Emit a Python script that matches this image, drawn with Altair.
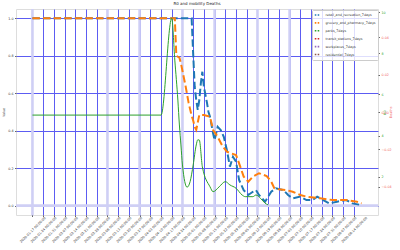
import altair as alt
import pandas as pd

# ---------------- data (x = days after 2020-01-17) ----------------
series_names = ["retail_and_recreation_7days", "grocery_and_pharmacy_7days", "parks_7days",
                "transit_stations_7days", "workplaces_7days", "residential_7days"]
series_colors = ["#1f77b4", "#ff7f0e", "#2ca02c", "#d62728", "#9467bd", "#8c564b"]

tick_days = [7 * i for i in range(31)]
tick_labels = [d.strftime("%Y-%m-%d %H:%M:%S") for d in pd.date_range("2020-01-17", periods=31, freq="7D")]

retail_day = [0, 104, 105, 106, 107, 108, 109, 110, 111, 112, 114, 115, 116, 118, 119, 121, 123, 125, 127,
              128, 129, 131, 133, 135, 138, 141, 144, 146, 148, 152, 156, 159, 164, 167, 170, 175, 179,
              183, 186, 190, 194, 199, 205, 209, 215]
retail_val = [1.0, 1.0, 0.81, 0.635, 0.564, 0.511, 0.564, 0.653, 0.715, 0.635, 0.55, 0.5, 0.475, 0.386,
              0.35, 0.421, 0.404, 0.368, 0.297, 0.253, 0.208, 0.261, 0.235, 0.137, 0.083, 0.057, 0.074,
              0.083, 0.057, 0.021, 0.074, 0.093, 0.083, 0.057, 0.039, 0.048, 0.03, 0.03, 0.048, 0.03,
              0.012, 0.021, 0.03, 0.012, 0.003]

grocery_day = [0, 93, 94, 96, 97, 100, 102, 104, 105, 106, 107, 109, 112, 116, 118, 121, 124, 127, 130,
               133, 135, 138, 141, 144, 148, 153, 156, 158, 161, 166, 170, 175, 179, 188, 196, 205, 212, 215]
grocery_val = [1.0, 1.0, 0.80, 0.79, 0.76, 0.64, 0.55, 0.48, 0.455, 0.42, 0.405, 0.484, 0.484, 0.475,
               0.404, 0.368, 0.32, 0.288, 0.279, 0.27, 0.226, 0.155, 0.128, 0.155, 0.173, 0.158, 0.128,
               0.093, 0.087, 0.083, 0.074, 0.057, 0.048, 0.039, 0.03, 0.03, 0.021, 0.012]

r0_day = [0, 84, 91, 93, 95, 96, 97, 98, 101, 103, 105, 107, 108, 109, 111, 116, 118, 122, 126, 129,
          133, 137, 139, 144, 146, 149, 152, 154]
r0_val = [5.0, 5.0, 9.7, 7.67, 5.73, 4.52, 3.55, 2.58, 1.5, 1.77, 2.58, 3.55, 3.8, 3.79, 2.49, 1.52,
          1.28, 1.52, 1.77, 1.61, 1.45, 1.12, 1.04, 1.04, 1.12, 0.96, 0.72, 0.64]

marker_days = [0, 49, 70, 98, 119, 147, 168]
value_ticks = [0.0, 0.2, 0.4, 0.6, 0.8, 1.0]
r0_ticks = [2, 4, 6, 8, 10]
deaths_ticks = [-0.04, -0.02, 0.0, 0.02, 0.04]

mob = pd.concat([
    pd.DataFrame({"day": retail_day, "value": retail_val, "series": series_names[0]}),
    pd.DataFrame({"day": grocery_day, "value": grocery_val, "series": series_names[1]}),
])
r0 = pd.DataFrame({"day": r0_day, "r0": r0_val})
markers = pd.DataFrame({"day": marker_days})
zero = pd.DataFrame({"value": [0.0]})
deaths = pd.DataFrame({"v": deaths_ticks})

FONT = "DejaVu Sans"
GRID = "#5c5cf2"
FS = 3.3

x_scale = alt.Scale(domain=[-10.75, 225.75], nice=False, zero=False)
label_js = "[" + ",".join("'%s'" % s for s in tick_labels) + "]"
x_axis = alt.Axis(values=tick_days, labelExpr=label_js + "[round(datum.value/7)]",
                  labelAngle=315, labelAlign="center", labelBaseline="middle", labelFontSize=FS,
                  labelPadding=13, tickSize=1.5, labelOverlap=False, labelFlush=False,
                  grid=True, gridColor=GRID, gridWidth=1, domain=False, title=None,
                  labelColor="#333", tickColor="#666", labelFont=FONT)

y_axis = alt.Axis(values=value_ticks, format=".1f", grid=True, gridColor=GRID, gridWidth=1,
                  domain=False, tickSize=1.5, labelPadding=1.5, labelFontSize=FS, labelFont=FONT,
                  labelColor="#333", tickColor="#666", title="Value", titleFontSize=FS,
                  titleFont=FONT, titleFontWeight="normal", titlePadding=2, titleColor="#333")

y_scale = alt.Scale(domain=[-0.05, 1.05], nice=False, zero=False)

vlines = alt.Chart(markers).mark_rule(color="#cfcff5", strokeWidth=2.6).encode(
    x=alt.X("day:Q", scale=x_scale, axis=x_axis))
hline = alt.Chart(zero).mark_rule(color="#cfcff5", strokeWidth=2.6).encode(
    y=alt.Y("value:Q", scale=y_scale, axis=y_axis))
lines = alt.Chart(mob).mark_line(strokeWidth=2, strokeDash=[7.4, 3.2]).encode(
    x=alt.X("day:Q", scale=x_scale, axis=x_axis),
    y=alt.Y("value:Q", scale=y_scale, axis=y_axis),
    color=alt.Color("series:N", scale=alt.Scale(domain=series_names, range=series_colors),
                    legend=alt.Legend(orient="none", legendX=296, legendY=1, title=None,
                                      labelFontSize=FS, labelFont=FONT, labelColor="#333",
                                      symbolType="M-1,0H-0.3M0.3,0H1", symbolSize=20,
                                      symbolStrokeWidth=1.6, labelOffset=5, rowPadding=0.9,
                                      padding=1.5, fillColor="rgba(255,255,255,0.8)",
                                      strokeColor="#cccccc", cornerRadius=1, labelLimit=200)),
    order="day:Q",
)
layer_a = alt.layer(vlines, hline, lines)

layer_b = alt.Chart(r0).mark_line(color="#2ca02c", strokeWidth=1, interpolate="monotone").encode(
    x=alt.X("day:Q", scale=x_scale, axis=x_axis),
    y=alt.Y("r0:Q", scale=alt.Scale(domain=[0.15, 10.15], nice=False, zero=False),
            axis=alt.Axis(orient="right", values=r0_ticks, grid=False, domain=False, tickSize=1.5,
                          labelPadding=1.5, labelFontSize=FS, labelFont=FONT, labelColor="#2ca02c",
                          tickColor="#666", title="R0", titleColor="#2ca02c", titleFontSize=FS,
                          titleFont=FONT, titleFontWeight="normal", titleAngle=270, titlePadding=1)),
)

layer_c = alt.Chart(deaths).mark_rule(opacity=0).encode(
    y=alt.Y("v:Q", scale=alt.Scale(domain=[-0.055, 0.055], nice=False, zero=False),
            axis=alt.Axis(orient="right", values=deaths_ticks, format=".2f", grid=False, domain=False,
                          tickSize=1.5, labelPadding=1.5, labelFontSize=FS, labelFont=FONT,
                          labelColor="#f06060", tickColor="#666", title="Deaths", titleColor="#f06060",
                          titleFontSize=FS, titleFont=FONT, titleFontWeight="normal", titleAngle=270,
                          titlePadding=1)),
)

chart = alt.layer(layer_a, layer_b, layer_c).resolve_scale(y="independent").properties(
    width=362, height=206,
    padding={"left": 16, "top": 9, "right": 22, "bottom": 35},
    autosize=alt.AutoSizeParams(type="none"),
    title=alt.TitleParams("R0 and mobility Deaths", fontSize=4, font=FONT, fontWeight="normal",
                          offset=2, anchor="middle", color="#222"),
).configure_view(stroke="#888", strokeWidth=0.8).configure(background="white")

chart.save("out.html", embed_options={"renderer": "svg", "actions": False})
